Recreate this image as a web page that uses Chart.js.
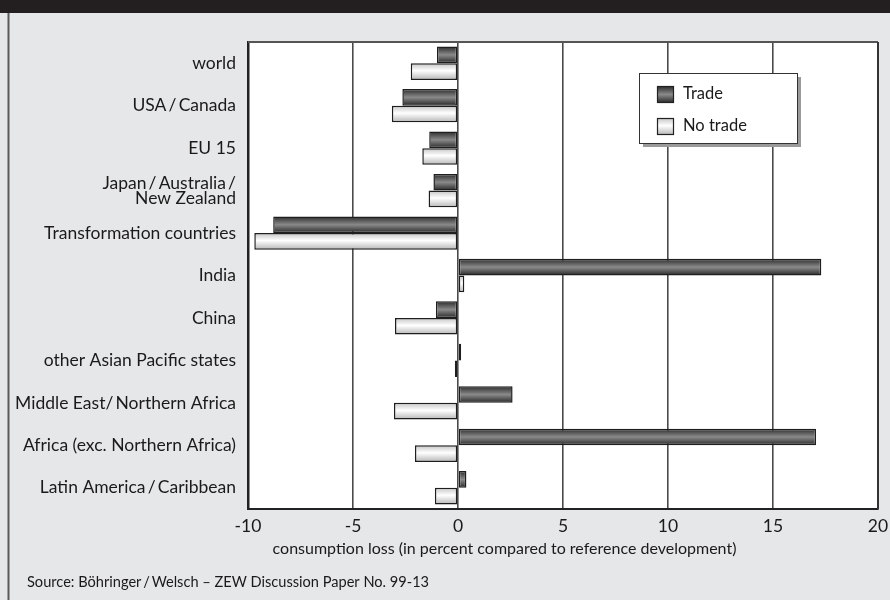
<!DOCTYPE html>
<html>
<head>
<meta charset="utf-8">
<script src="https://cdn.jsdelivr.net/npm/chart.js@4.4.1/dist/chart.umd.min.js"></script>
<style>
  html, body { margin: 0; padding: 0; background: #e6e7e8; }
  #wrap { width: 890px; height: 600px; position: relative; }
</style>
</head>
<body>
<div id="wrap"><canvas id="c" width="890" height="600"></canvas></div>
<script>
const categories = [
  "world",
  "USA\u2009/\u2009Canada",
  "EU 15",
  ["Japan\u2009/\u2009Australia\u2009/", "New Zealand"],
  "Transformation countries",
  "India",
  "China",
  "other Asian Pacific states",
  "Middle East/\u2009Northern Africa",
  "Africa (exc. Northern Africa)",
  "Latin America\u2009/\u2009Caribbean"
];
const seriesNames = ["Trade", "No trade"];
const tradeValues   = [-1.0, -2.65, -1.37, -1.17, -8.8, 17.3, -1.05, 0.15, 2.6, 17.05, 0.4];
const noTradeValues = [-2.25, -3.15, -1.7, -1.4, -9.7, 0.3, -3.0, -0.15, -3.05, -2.05, -1.1];
const xMin = -10, xMax = 20, xStep = 5;
const xTitle = "consumption loss (in percent compared to reference development)";
const sourceText = "Source: Böhringer\u2009/\u2009Welsch \u2013 ZEW Discussion Paper No. 99-13";

const FONT = "Lato";
const TEXT_COLOR = '#1a1a1a';
const CAT_PCT = 0.785;
const tradeStops = [[0, '#2a2a2a'], [0.5, '#8a8a8a'], [1, '#262626']];
const noTradeStops = [[0, '#c4c4c4'], [0.45, '#ffffff'], [1, '#b5b5b5']];

function makeGrad(c2d, y0, y1, stops) {
  const g = c2d.createLinearGradient(0, y0, 0, y1);
  stops.forEach(s => g.addColorStop(s[0], s[1]));
  return g;
}
function barFill(stops, fallback) {
  return function (ctx) {
    const chart = ctx.chart;
    const ys = chart.scales && chart.scales.y;
    if (!ys || ctx.dataIndex === undefined || !chart.chartArea) return fallback;
    const c = ys.getPixelForValue(ctx.dataIndex);
    const catW = (ys.bottom - ys.top) / categories.length;
    const h = catW * CAT_PCT / 2;
    const top = ctx.datasetIndex === 0 ? c - h : c;
    return makeGrad(chart.ctx, top, top + h, stops);
  };
}

const framePlugin = {
  id: 'frame',
  beforeDraw(chart) {
    const c = chart.ctx, a = chart.chartArea;
    c.save();
    c.fillStyle = '#e6e7e8';
    c.fillRect(0, 0, chart.width, chart.height);
    c.fillStyle = '#231f20';
    c.fillRect(0, 0, chart.width, 13);
    c.strokeStyle = '#5a5a5a';
    c.lineWidth = 2;
    c.beginPath(); c.moveTo(8.5, 13); c.lineTo(8.5, chart.height); c.stroke();
    c.fillStyle = '#ffffff';
    c.fillRect(a.left, a.top, a.right - a.left, a.bottom - a.top);
    c.restore();
  },
  beforeDatasetsDraw(chart) {
    const c = chart.ctx, a = chart.chartArea;
    c.save();
    c.strokeStyle = '#555555';
    c.lineWidth = 2;
    c.beginPath(); c.moveTo(a.left, a.top); c.lineTo(a.right, a.top); c.stroke();
    c.strokeStyle = '#333333';
    c.beginPath(); c.moveTo(a.right, a.top); c.lineTo(a.right, a.bottom); c.stroke();
    c.restore();
  },
  afterDatasetsDraw(chart) {
    const c = chart.ctx;
    const bx = 639, by = 73, bw = 158, bh = 70;
    c.save();
    c.fillStyle = '#9a9a9a';
    c.fillRect(bx + 4, by + 4, bw, bh);
    c.fillStyle = '#ffffff';
    c.fillRect(bx, by, bw, bh);
    c.strokeStyle = '#333333';
    c.lineWidth = 1;
    c.strokeRect(bx + 0.5, by + 0.5, bw, bh);
    const items = [[seriesNames[0], tradeStops, 86], [seriesNames[1], noTradeStops, 118]];
    c.font = '16.5px ' + FONT;
    c.textBaseline = 'middle';
    c.textAlign = 'left';
    items.forEach(it => {
      const sy = it[2];
      c.fillStyle = makeGrad(c, sy, sy + 17, it[1]);
      c.fillRect(657, sy, 17, 17);
      c.strokeStyle = '#222222';
      c.lineWidth = 1.2;
      c.strokeRect(657.5, sy + 0.5, 16, 16);
      c.fillStyle = TEXT_COLOR;
      c.fillText(it[0], 683, sy + 8);
    });
    c.restore();
  },
  afterDraw(chart) {
    const c = chart.ctx;
    c.save();
    c.fillStyle = TEXT_COLOR;
    c.textBaseline = 'middle';
    c.font = '16px ' + FONT;
    c.textAlign = 'center';
    c.fillText(xTitle, 504.5, 549);
    c.textAlign = 'left';
    c.font = '14.6px ' + FONT;
    c.fillText(sourceText, 27, 582);
    c.restore();
  }
};

new Chart(document.getElementById('c'), {
  type: 'bar',
  data: {
    labels: categories,
    datasets: [
      {
        label: seriesNames[0],
        data: tradeValues,
        backgroundColor: barFill(tradeStops, '#5a5a5a'),
        borderColor: '#1e1e1e',
        borderWidth: 1.5,
        borderSkipped: false
      },
      {
        label: seriesNames[1],
        data: noTradeValues,
        backgroundColor: barFill(noTradeStops, '#eeeeee'),
        borderColor: '#1e1e1e',
        borderWidth: 1.5,
        borderSkipped: false
      }
    ]
  },
  options: {
    indexAxis: 'y',
    responsive: false,
    animation: false,
    devicePixelRatio: 1,
    categoryPercentage: CAT_PCT,
    barPercentage: 1.0,
    layout: { padding: { left: 0, right: 12, top: 42, bottom: 0 } },
    plugins: {
      legend: { display: false },
      tooltip: { enabled: false }
    },
    scales: {
      x: {
        type: 'linear',
        min: xMin, max: xMax,
        ticks: { stepSize: xStep, padding: 7, color: TEXT_COLOR, font: { family: FONT, size: 17.5 } },
        grid: { color: '#4a4a4a', lineWidth: 1.6, drawTicks: false },
        border: { display: true, color: '#222222', width: 2 },
        afterFit(scale) { scale.height = 91; scale.paddingLeft = 0; scale.paddingRight = 0; }
      },
      y: {
        type: 'category',
        ticks: { padding: 12, color: TEXT_COLOR, font: { family: FONT, size: 17.5, lineHeight: 0.85 } },
        grid: { display: false, drawTicks: false },
        border: { display: true, color: '#222222', width: 2.5 },
        afterFit(scale) { scale.width = 248; scale.paddingTop = 0; scale.paddingBottom = 0; }
      }
    }
  },
  plugins: [framePlugin]
});
</script>
</body>
</html>
